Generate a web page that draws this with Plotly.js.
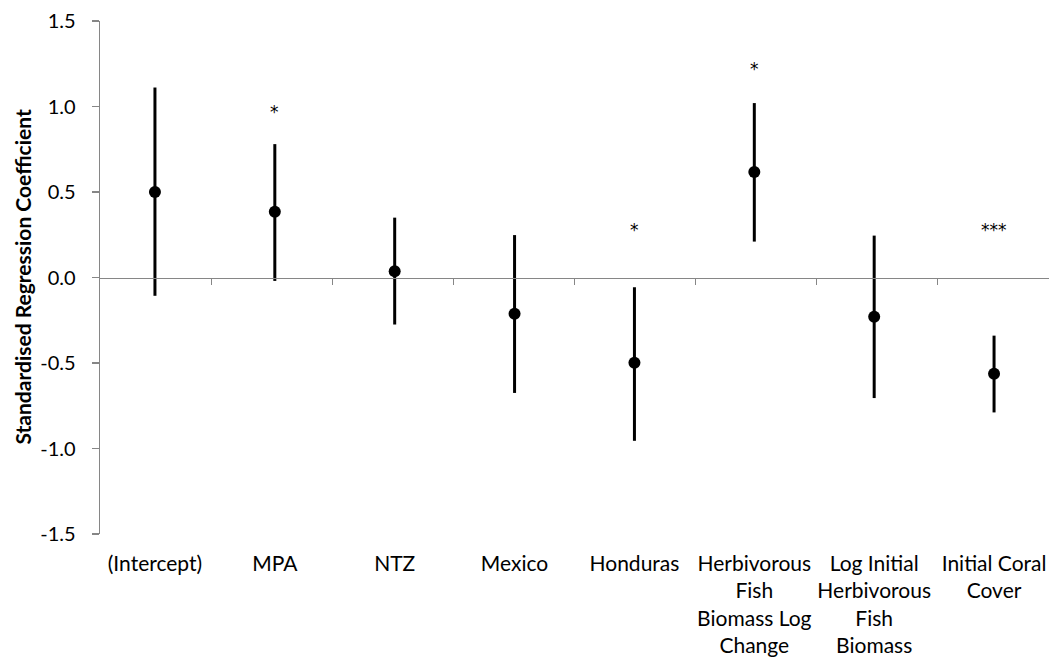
<!DOCTYPE html>
<html>
<head>
<meta charset="utf-8">
<script src="https://cdn.plot.ly/plotly-3.0.1.min.js"></script>
<style>html,body{margin:0;padding:0;background:#fff;}#chart{width:1057px;height:658px;}</style>
</head>
<body>
<div id="chart"></div>
<script>
const categories = ["(Intercept)", "MPA", "NTZ", "Mexico", "Honduras",
  "Herbivorous<br>Fish<br>Biomass Log<br>Change",
  "Log Initial<br>Herbivorous<br>Fish<br>Biomass",
  "Initial Coral<br>Cover"];
const estimate = [0.50, 0.385, 0.037, -0.212, -0.498, 0.617, -0.230, -0.563];
const lower    = [-0.107, -0.02, -0.275, -0.675, -0.955, 0.210, -0.705, -0.789];
const upper    = [1.111, 0.780, 0.350, 0.248, -0.057, 1.020, 0.245, -0.340];
const sigLabel = ["", "*", "", "", "*", "*", "", "***"];
const sigY     = [null, 0.97, null, null, 0.275, 1.22, null, 0.275];
const yTickVals = [-1.5, -1.0, -0.5, 0.0, 0.5, 1.0, 1.5];
const yTickText = ["-1.5", "-1.0", "-0.5", "0.0", "0.5", "1.0", "1.5"];

const FONT = "Lato, 'Noto Sans', sans-serif";
const AXC = "#868686";

const main = {
  type: "scatter", mode: "markers",
  x: categories, y: estimate,
  marker: {color: "#000", size: 12},
  error_y: {
    type: "data", symmetric: false,
    array: upper.map((u, i) => u - estimate[i]),
    arrayminus: lower.map((l, i) => estimate[i] - l),
    color: "#000", thickness: 3, width: 0
  },
  showlegend: false, hoverinfo: "skip"
};
const axisHelper = {
  type: "scatter", mode: "markers", x: categories, y: estimate,
  xaxis: "x2", marker: {opacity: 0}, showlegend: false, hoverinfo: "skip"
};

const annotations = [];
sigLabel.forEach((s, i) => {
  if (s) annotations.push({x: categories[i], y: sigY[i], xref: "x", yref: "y",
    text: s, showarrow: false, font: {family: "DejaVu Sans, sans-serif", size: 17, color: "#000"}});
});

const layout = {
  width: 1057, height: 658,
  margin: {l: 100, r: 8, t: 21, b: 124},
  paper_bgcolor: "#fff", plot_bgcolor: "#fff",
  font: {family: FONT, size: 20, color: "#000"},
  xaxis: {
    type: "category", showline: false, showgrid: false, zeroline: false,
    ticks: "", ticklabelstandoff: 15, automargin: false,
    tickfont: {family: FONT, size: 21, color: "#000"}
  },
  xaxis2: {
    type: "category", overlaying: "x", anchor: "free", position: 0.5,
    showline: true, linecolor: AXC, linewidth: 1.3, showgrid: false, zeroline: false,
    ticks: "outside", tickson: "boundaries", ticklen: 6, tickcolor: AXC, tickwidth: 1.3,
    showticklabels: false, automargin: false
  },
  yaxis: {
    range: [-1.5, 1.5], tickmode: "array", tickvals: yTickVals, ticktext: yTickText,
    showline: true, linecolor: AXC, linewidth: 1.3, showgrid: false, zeroline: false,
    ticks: "outside", ticklen: 7, tickcolor: AXC, tickwidth: 1.3, ticklabelstandoff: 12,
    automargin: false,
    tickfont: {family: FONT, size: 20, color: "#000"}
  },
  annotations: annotations.concat([{
    text: "<b>Standardised Regression Coefficient</b>", textangle: -90,
    xref: "paper", yref: "paper", x: 0, y: 0.5, xanchor: "center", yanchor: "middle",
    xshift: -78, showarrow: false, font: {family: FONT, size: 21, color: "#000"}
  }])
};

Plotly.newPlot("chart", [main, axisHelper], layout, {displayModeBar: false, staticPlot: true});
</script>
</body>
</html>
